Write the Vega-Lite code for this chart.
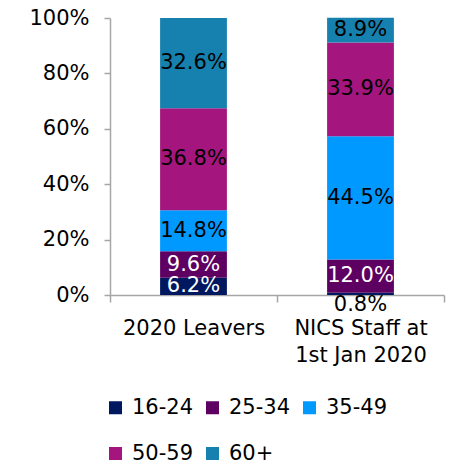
{
  "$schema": "https://vega.github.io/schema/vega-lite/v6.json",
  "width": 334,
  "height": 277,
  "autosize": "none",
  "padding": {"left": 110, "top": 18, "right": 8, "bottom": 170},
  "background": "white",
  "config": {
    "view": {"stroke": null},
    "font": "DejaVu Sans",
    "axis": {"labelFont": "DejaVu Sans", "labelFontSize": 21, "labelColor": "#000000", "domainColor": "#a6a6a6", "tickColor": "#a6a6a6", "domainWidth": 1.5, "tickWidth": 1.5, "grid": false, "title": null},
    "legend": {"labelFont": "DejaVu Sans", "labelFontSize": 21, "labelColor": "#000000"}
  },
  "data": {
    "values": [
      {"group": "2020 Leavers", "age": "16-24", "value": 6.2},
      {"group": "2020 Leavers", "age": "25-34", "value": 9.6},
      {"group": "2020 Leavers", "age": "35-49", "value": 14.8},
      {"group": "2020 Leavers", "age": "50-59", "value": 36.8},
      {"group": "2020 Leavers", "age": "60+", "value": 32.6},
      {"group": "NICS Staff at 1st Jan 2020", "age": "16-24", "value": 0.8},
      {"group": "NICS Staff at 1st Jan 2020", "age": "25-34", "value": 12.0},
      {"group": "NICS Staff at 1st Jan 2020", "age": "35-49", "value": 44.5},
      {"group": "NICS Staff at 1st Jan 2020", "age": "50-59", "value": 33.9},
      {"group": "NICS Staff at 1st Jan 2020", "age": "60+", "value": 8.9}
    ]
  },
  "transform": [
    {"calculate": "indexof(['16-24','25-34','35-49','50-59','60+'], datum.age)", "as": "ord"},
    {"stack": "value", "groupby": ["group"], "sort": [{"field": "ord", "order": "ascending"}], "as": ["y0", "y1"]},
    {"calculate": "(datum.y0 + datum.y1) / 2", "as": "ymid"},
    {"calculate": "format(datum.value, '.1f') + '%'", "as": "label"}
  ],
  "encoding": {
    "x": {
      "field": "group", "type": "nominal",
      "scale": {"paddingInner": 0, "paddingOuter": 0},
      "axis": {"labelAngle": 0, "tickBand": "extent", "tickSize": 7, "labelPadding": 15, "labelBaseline": "top", "labelLineHeight": 27,
        "labelExpr": "datum.label == 'NICS Staff at 1st Jan 2020' ? ['NICS Staff at', '1st Jan 2020'] : datum.label"}
    }
  },
  "layer": [
    {
      "mark": {"type": "bar", "width": {"band": 0.4}},
      "encoding": {
        "y": {"field": "y0", "type": "quantitative", "scale": {"domain": [0, 100], "nice": false},
          "axis": {"values": [0, 20, 40, 60, 80, 100], "labelExpr": "datum.value + '%'", "tickSize": 6, "labelPadding": 15}},
        "y2": {"field": "y1"},
        "color": {
          "field": "age", "type": "nominal",
          "scale": {"domain": ["16-24", "25-34", "35-49", "50-59", "60+"], "range": ["#001860", "#5d0062", "#0099ff", "#a4167e", "#1680ae"]},
          "legend": {"title": null, "orient": "none", "direction": "horizontal", "legendX": -5, "legendY": 379, "columns": 3, "symbolType": "square", "symbolSize": 169, "symbolStrokeWidth": 0, "labelOffset": 6, "columnPadding": 8, "rowPadding": 24, "symbolOpacity": 1}
        }
      }
    },
    {
      "transform": [{"filter": "datum.value >= 2"}],
      "mark": {"type": "text", "fontSize": 21, "baseline": "middle", "align": "center"},
      "encoding": {
        "y": {"field": "ymid", "type": "quantitative"},
        "text": {"field": "label"},
        "color": {"condition": {"test": "datum.age == '16-24' || datum.age == '25-34'", "value": "#ffffff"}, "value": "#000000"}
      }
    },
    {
      "transform": [{"filter": "datum.value < 2"}],
      "mark": {"type": "text", "fontSize": 21, "baseline": "middle", "align": "center", "dy": 10, "color": "#000000"},
      "encoding": {
        "y": {"field": "y0", "type": "quantitative"},
        "text": {"field": "label"}
      }
    }
  ]
}
